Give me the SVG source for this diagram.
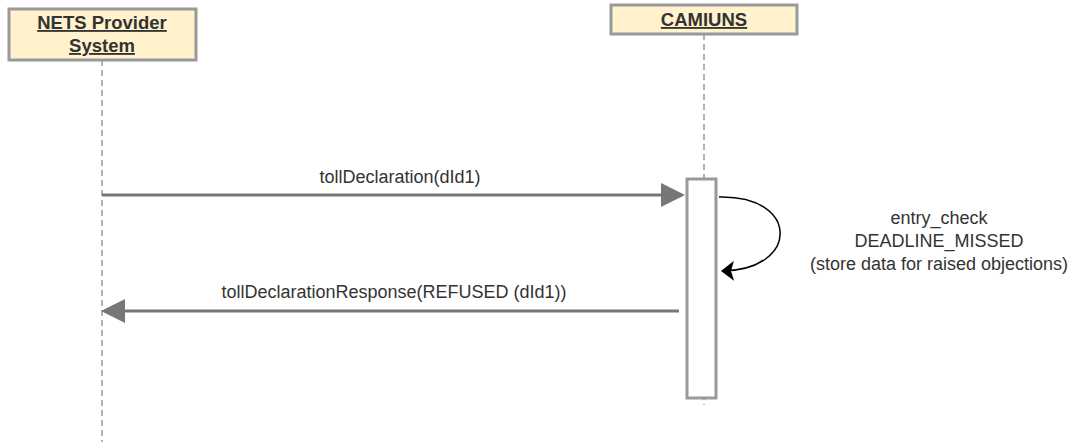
<svg xmlns="http://www.w3.org/2000/svg" width="1077" height="442" viewBox="0 0 1077 442">
<style>
.hdr{fill:#fff2cc;stroke:#999;stroke-width:3}
.ht{font-family:"Liberation Sans",Arial,sans-serif;font-size:18.5px;font-weight:bold;fill:#333;text-decoration:underline;text-anchor:middle}
.life{stroke:#999;stroke-width:1.5;stroke-dasharray:6 4;fill:none}
.msg{stroke:#777;stroke-width:3;fill:none}
.lbl{font-family:"Liberation Sans",Arial,sans-serif;font-size:18px;fill:#333;text-anchor:middle}
</style>
<defs>
<marker id="ah" markerWidth="8" markerHeight="8" refX="7" refY="4" orient="auto" markerUnits="strokeWidth">
<path d="M0,0 L8,4 L0,8 Z" fill="#777"/>
</marker>
<marker id="ahb" markerWidth="14" markerHeight="20" refX="12" refY="10" orient="auto" markerUnits="userSpaceOnUse">
<path d="M0,0 L13,10 L0,20 L3,10 Z" fill="#000"/>
</marker>
</defs>
<rect width="1077" height="442" fill="#fff"/>
<g id="nets">
<line class="life" x1="102" y1="60" x2="102" y2="442"/>
<rect class="hdr" x="9" y="9" width="187" height="51"/>
<text class="ht" x="102" y="29">NETS Provider</text>
<text class="ht" x="102" y="52">System</text>
</g>
<g id="camiuns">
<line class="life" x1="704" y1="34" x2="704" y2="405"/>
<rect class="hdr" x="611" y="5" width="186" height="29"/>
<text class="ht" x="704" y="26">CAMIUNS</text>
<rect x="687" y="179" width="29" height="219" fill="#fff" stroke="#999" stroke-width="3"/>
</g>
<g id="connectors">
<line class="msg" x1="102" y1="195" x2="682" y2="195" marker-end="url(#ah)"/>
<text class="lbl" x="400" y="183">tollDeclaration(dId1)</text>
<line class="msg" x1="679" y1="311" x2="104" y2="311" marker-end="url(#ah)"/>
<text class="lbl" x="394" y="298">tollDeclarationResponse(REFUSED (dId1))</text>
<path d="M719,197 C800,195 800,270 722,271" fill="none" stroke="#000" stroke-width="1.5" marker-end="url(#ahb)"/>
<text class="lbl" x="939" y="224">entry_check</text>
<text class="lbl" x="939" y="247">DEADLINE_MISSED</text>
<text class="lbl" x="939" y="270">(store data for raised objections)</text>
</g>
</svg>
